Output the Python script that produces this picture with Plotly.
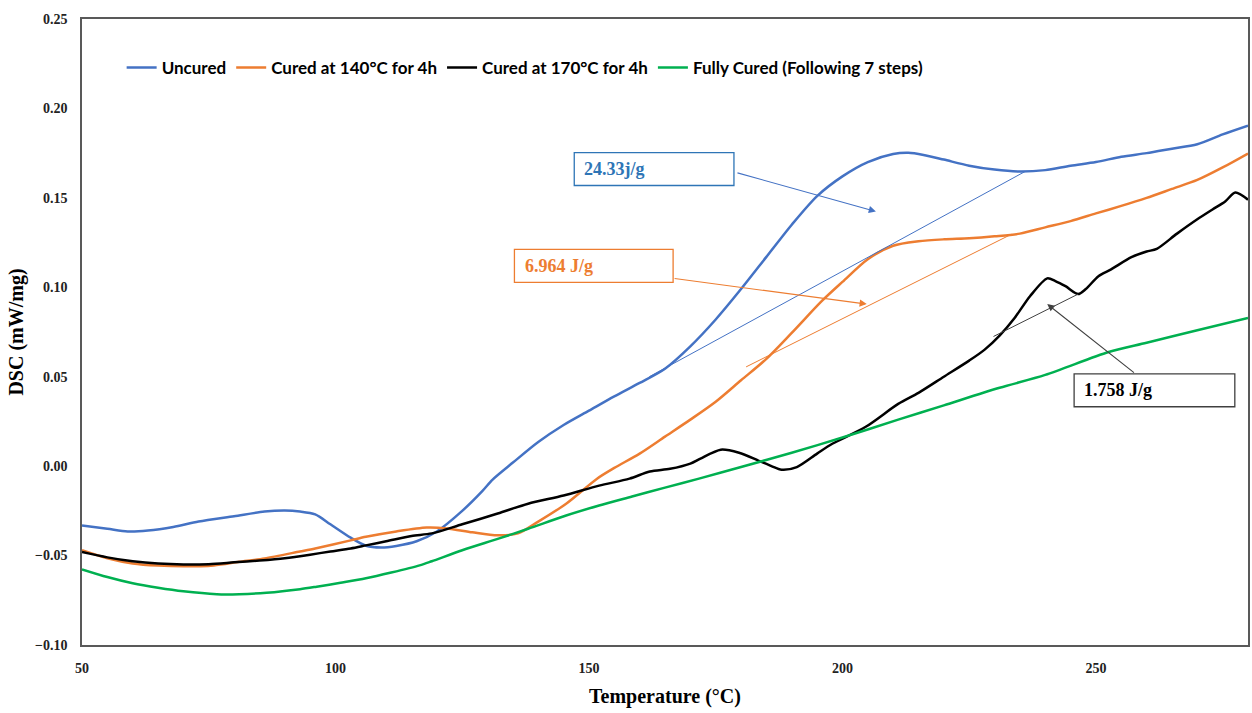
import plotly.graph_objects as go

# ---- DSC curves (temperature in °C, heat flow in mW/mg) ----
uncured_t = [50, 55, 59, 63, 68, 73, 80, 86, 90, 93, 96, 99, 103, 106, 109, 112, 116, 120, 125,
             129, 131, 135, 140, 145, 150, 155, 160, 165, 170, 175, 180, 185, 190, 195, 200, 205,
             210, 213, 216, 220, 225, 230, 235, 240, 245, 250, 255, 260, 265, 270, 275, 280]
uncured_v = [-0.0332, -0.035, -0.0365, -0.036, -0.034, -0.031, -0.028, -0.0254, -0.0248, -0.0254,
             -0.027, -0.0325, -0.040, -0.0445, -0.0455, -0.0446, -0.042, -0.0365, -0.025,
             -0.0138, -0.0075, 0.002, 0.0135, 0.023, 0.031, 0.039, 0.0465, 0.0545, 0.067, 0.082,
             0.099, 0.117, 0.135, 0.151, 0.162, 0.170, 0.1745, 0.1752, 0.174, 0.1714, 0.168,
             0.1658, 0.1647, 0.1655, 0.168, 0.170, 0.173, 0.175, 0.1775, 0.180, 0.1855, 0.1904]

cured140_t = [50, 55, 60, 65, 70, 76, 81, 86, 93, 96, 103, 106, 112, 118, 122, 127, 132, 136, 140,
              145.5, 151.6, 155, 160, 165, 170, 175, 180, 185, 190, 196, 200, 205, 210, 215, 220,
              225, 230, 235, 240, 245, 250, 255, 260, 265, 270, 275, 280]
cured140_v = [-0.047, -0.0515, -0.0544, -0.0556, -0.056, -0.0555, -0.0535, -0.0516, -0.0477,
              -0.046, -0.0415, -0.0395, -0.0365, -0.0343, -0.0348, -0.037, -0.0387, -0.0376,
              -0.031, -0.021, -0.007, -0.001, 0.007, 0.0165, 0.026, 0.036, 0.048, 0.060, 0.0745,
              0.0925, 0.103, 0.1157, 0.1232, 0.1257, 0.1268, 0.1274, 0.1285, 0.130, 0.1335,
              0.137, 0.1413, 0.1455, 0.150, 0.155, 0.160, 0.167, 0.1748]

cured170_t = [50, 55, 60, 65, 70, 75, 80, 85, 90, 95, 99, 103, 106, 110, 115, 119, 125, 132, 138,
              145, 152, 158, 162, 166, 170, 172, 176, 179.6, 183.5, 186, 188, 191, 195, 198,
              204.6, 211, 215, 220, 225, 228, 231, 234, 237, 240.4, 242, 244, 246.5, 248, 250.5,
              253, 257, 260, 262, 266, 270, 273, 275.5, 277.5, 280]
cured170_v = [-0.048, -0.051, -0.0532, -0.0545, -0.055, -0.0548, -0.0538, -0.0528, -0.0515,
              -0.0495, -0.0477, -0.046, -0.0443, -0.042, -0.039, -0.0376, -0.0325, -0.0265,
              -0.021, -0.0164, -0.0109, -0.007, -0.003, -0.0015, 0.0014, 0.0042, 0.0092, 0.0075,
              0.003, 0.000, -0.002, -0.0005, 0.007, 0.0125, 0.022, 0.0348, 0.041, 0.050, 0.059,
              0.065, 0.073, 0.083, 0.095, 0.105, 0.1035, 0.1006, 0.0962, 0.099, 0.1062, 0.110,
              0.1168, 0.120, 0.1215, 0.130, 0.138, 0.1435, 0.148, 0.153, 0.149]

full_t = [50, 55, 60, 65, 70, 76.6, 81, 86.4, 93, 96.3, 101, 106, 111, 116.6, 119, 125, 132.3, 138,
          145.5, 152, 158.5, 165, 171.7, 180, 190, 200, 211, 220, 231, 240, 252.5, 260, 270, 280]
full_v = [-0.0577, -0.062, -0.0655, -0.068, -0.070, -0.0716, -0.0716, -0.0708, -0.0688, -0.0674,
          -0.0652, -0.0627, -0.0595, -0.0555, -0.0532, -0.047, -0.0404, -0.035, -0.0276, -0.022,
          -0.017, -0.012, -0.007, -0.0005, 0.0075, 0.016, 0.026, 0.034, 0.0438, 0.051, 0.0638,
          0.069, 0.076, 0.0828]

# ---- integration baselines (start / end points) ----
base_uncured_t = [161.9, 236.0]
base_uncured_v = [0.050, 0.1647]
base_140_t = [181.0, 233.3]
base_140_v = [0.0555, 0.1296]
base_170_t = [229.8, 246.5]
base_170_v = [0.0725, 0.0962]

# ---- enthalpy labels: text, box corners, arrow tail and head ----
enthalpy_labels = ["24.33j/g", "6.964 J/g", "1.758 J/g"]
box_t0 = [147.1, 135.3, 245.7]
box_t1 = [178.6, 166.6, 277.4]
box_v0 = [0.1569, 0.1028, 0.0332]
box_v1 = [0.1753, 0.1212, 0.0516]
arrow_tail_t = [179.0, 166.6, 257.8]
arrow_tail_v = [0.1642, 0.105, 0.0516]
arrow_head_t = [206.6, 204.8, 240.4]
arrow_head_v = [0.1424, 0.0906, 0.0906]

BLUE = "#4472C4"
ORANGE = "#ED7D31"
BLACK = "#000000"
GREEN = "#00B050"
label_text_colors = ["#2E75B6", ORANGE, "#000000"]
label_line_colors = ["#2E75B6", ORANGE, "#404040"]
arrow_colors = [BLUE, ORANGE, "#404040"]

fig = go.Figure()

series = [
    ("Uncured", uncured_t, uncured_v, BLUE),
    ("Cured at 140°C for 4h", cured140_t, cured140_v, ORANGE),
    ("Cured at 170°C for 4h", cured170_t, cured170_v, BLACK),
    ("Fully Cured (Following 7 steps)", full_t, full_v, GREEN),
]
for name, t, v, c in series:
    fig.add_trace(go.Scatter(x=t, y=v, mode="lines", name=name,
                             line=dict(color=c, width=2.5, shape="spline", smoothing=0.8)))

for t, v, c in [(base_uncured_t, base_uncured_v, BLUE),
                (base_140_t, base_140_v, ORANGE),
                (base_170_t, base_170_v, "#404040")]:
    fig.add_trace(go.Scatter(x=t, y=v, mode="lines", showlegend=False, hoverinfo="skip",
                             line=dict(color=c, width=1)))

for i, txt in enumerate(enthalpy_labels):
    fig.add_shape(type="rect", xref="x", yref="y",
                  x0=box_t0[i], x1=box_t1[i], y0=box_v0[i], y1=box_v1[i],
                  line=dict(color=label_line_colors[i], width=1.3), fillcolor="white", layer="above")
    fig.add_annotation(x=box_t0[i] + 1.6, y=(box_v0[i] + box_v1[i]) / 2, xref="x", yref="y",
                       text=txt, showarrow=False, xanchor="left", yanchor="middle",
                       font=dict(family="Liberation Serif", size=18, weight="bold",
                                 color=label_text_colors[i]))
    fig.add_annotation(x=arrow_head_t[i], y=arrow_head_v[i], ax=arrow_tail_t[i], ay=arrow_tail_v[i],
                       xref="x", yref="y", axref="x", ayref="y", text="", showarrow=True,
                       arrowhead=2, arrowsize=1.3, arrowwidth=1.1, arrowcolor=arrow_colors[i])

axis_line = dict(showline=True, linecolor="#595959", linewidth=1.5, mirror=True,
                 showgrid=False, zeroline=False, ticks="")
tick_font = dict(family="Liberation Serif", size=14, weight="bold", color="#222222")
title_font = dict(family="Liberation Serif", size=20, weight="bold", color="#000000")

fig.update_xaxes(range=[50, 280], tick0=50, dtick=50, tickfont=tick_font,
                 ticklabelstandoff=9,
                 title=dict(text="Temperature (°C)", font=title_font, standoff=14), **axis_line)
fig.update_yaxes(range=[-0.10, 0.25], dtick=0.05, tickformat=".2f", tickfont=tick_font,
                 ticklabelstandoff=10,
                 title=dict(text="DSC (mW/mg)", font=title_font, standoff=6), **axis_line)

fig.update_layout(
    width=1252, height=713,
    margin=dict(l=82, r=2, t=19, b=68),
    plot_bgcolor="white", paper_bgcolor="white",
    legend=dict(orientation="h", x=0.034, y=0.922, xanchor="left", yanchor="middle",
                bgcolor="rgba(0,0,0,0)",
                font=dict(family="Lato", size=17, weight="bold", color="#000000")),
)

fig.write_html("out.html")
